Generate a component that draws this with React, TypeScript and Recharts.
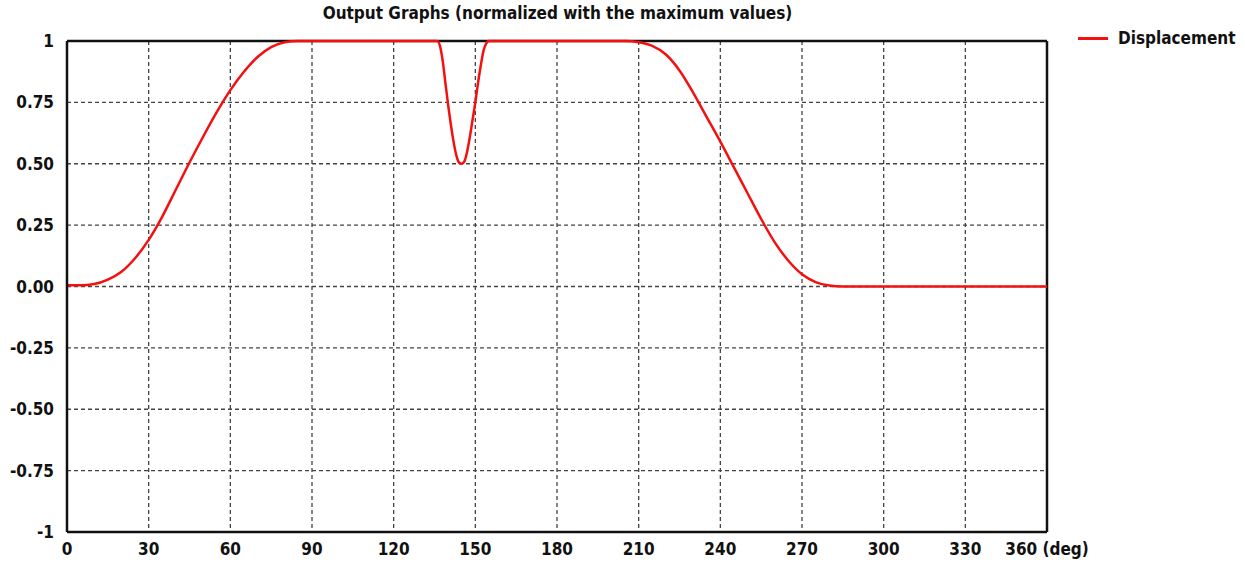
import React from "react";
import { LineChart, Line, XAxis, YAxis, CartesianGrid, ReferenceLine } from "recharts";

const angles: number[] = [
  0, 5, 10, 15, 20, 25, 30, 35, 40, 45, 50, 55, 60, 65, 70, 75, 80, 85, 90, 100, 110, 120, 130, 135,
  136, 137, 138, 139, 140, 141, 142, 143, 144, 145, 146, 147, 148, 149, 150, 151, 152, 153, 154, 155,
  160, 170, 180, 190, 200, 205, 210, 215, 220, 225, 230, 235, 240, 245, 250, 255, 260, 265, 270, 275,
  280, 285, 290, 300, 310, 320, 330, 340, 350, 360,
];
const displacement: number[] = [
  0.005, 0.005, 0.01, 0.028, 0.06, 0.115, 0.19, 0.285, 0.395, 0.505, 0.61, 0.71, 0.8, 0.875, 0.935, 0.975, 0.995, 1, 1, 1, 1, 1, 1, 1,
  1, 0.98, 0.92, 0.83, 0.74, 0.66, 0.59, 0.535, 0.505, 0.5, 0.51, 0.55, 0.61, 0.68, 0.75, 0.83, 0.9, 0.96, 0.99, 1,
  1, 1, 1, 1, 1, 1, 0.995, 0.98, 0.945, 0.88, 0.79, 0.69, 0.59, 0.485, 0.38, 0.275, 0.18, 0.105, 0.05, 0.018,
  0.004, 0, 0, 0, 0, 0, 0, 0, 0, 0,
];
const xTicks: number[] = [0, 30, 60, 90, 120, 150, 180, 210, 240, 270, 300, 330, 360];
const yTicks: number[] = [-1, -0.75, -0.5, -0.25, 0, 0.25, 0.5, 0.75, 1];
const yTickLabels: string[] = ["-1", "-0.75", "-0.50", "-0.25", "0.00", "0.25", "0.50", "0.75", "1"];
const titleText = "Output Graphs (normalized with the maximum values)";
const seriesName = "Displacement";

const data = angles.map((a, i) => ({ deg: a, value: displacement[i] }));

const FONT = "'DejaVu Sans Condensed', 'DejaVu Sans', sans-serif";
const tickStyle = { fontFamily: FONT, fontWeight: 700, fontSize: 17, fill: "#111", fontStretch: "condensed" };

export default function App() {
  return (
    <div style={{ position: "absolute", left: 0, top: 0, width: 1245, height: 564, background: "#fff" }}>
      <div
        style={{
          position: "absolute", left: 0, width: 1115, top: 3, textAlign: "center",
          fontFamily: FONT, fontWeight: 700, fontSize: 17, color: "#111", fontStretch: "condensed",
        }}
      >
        {titleText}
      </div>
      <div style={{ position: "absolute", left: 1078, top: 28, display: "flex", alignItems: "center" }}>
        <div style={{ width: 30, height: 3, background: "#f51010", marginRight: 10 }} />
        <span style={{ fontFamily: FONT, fontWeight: 700, fontSize: 17, color: "#111", fontStretch: "condensed" }}>
          {seriesName}
        </span>
      </div>
      <LineChart
        width={1245}
        height={564}
        data={data}
        margin={{ top: 41, right: 198, bottom: 2, left: 7 }}
      >
        <CartesianGrid stroke="#444" strokeDasharray="4 3" strokeWidth={1.3} />
        <XAxis
          dataKey="deg"
          type="number"
          domain={[0, 360]}
          ticks={xTicks}
          tickFormatter={(v: number) => (v === 360 ? "360 (deg)" : String(v))}
          tickLine={false}
          tickSize={0}
          tickMargin={11}
          height={30}
          axisLine={{ stroke: "#111", strokeWidth: 2.5 }}
          tick={tickStyle}
          interval={0}
        />
        <YAxis
          type="number"
          domain={[-1, 1]}
          ticks={yTicks}
          tickFormatter={(v: number) => yTickLabels[yTicks.indexOf(v)] ?? String(v)}
          tickLine={false}
          tickSize={0}
          tickMargin={13}
          width={60}
          axisLine={{ stroke: "#111", strokeWidth: 2.5 }}
          tick={tickStyle}
          interval={0}
        />
        <ReferenceLine y={1} stroke="#111" strokeWidth={2.5} />
        <ReferenceLine x={360} stroke="#111" strokeWidth={2.5} />
        <Line
          type="monotone"
          dataKey="value"
          stroke="#f51010"
          strokeWidth={2.5}
          dot={false}
          isAnimationActive={false}
        />
      </LineChart>
    </div>
  );
}
